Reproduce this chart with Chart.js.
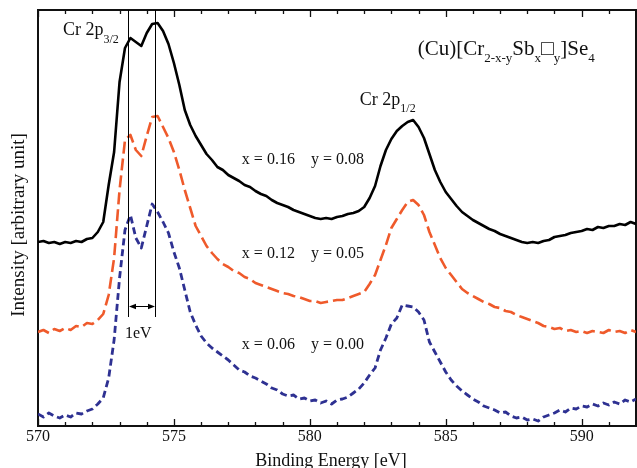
<!DOCTYPE html>
<html>
<head>
<meta charset="utf-8">
<script src="https://cdn.jsdelivr.net/npm/chart.js@4.4.1/dist/chart.umd.min.js"></script>
<style>
  html, body { margin: 0; padding: 0; background: #fff; }
  canvas { display: block; }
</style>
</head>
<body>
<canvas id="xps" width="637" height="468"></canvas>
<script>
// binding energy grid, 570-592 eV in 0.2 eV steps
const energy = [];
for (let i = 0; i <= 110; i++) energy.push(+(570 + i * 0.2).toFixed(1));

// x = 0.16, y = 0.08
const intensityX016 = [
  184, 185, 183, 184, 182, 184, 183, 185, 184, 187,
  188, 194, 204, 241, 274, 344, 378, 388, 384, 380,
  393, 402, 403, 395, 382, 363, 341, 316, 301, 290,
  281, 272, 266, 259, 256, 251, 248, 245, 241, 239,
  235, 232, 230, 226, 223, 221, 219, 216, 214, 212,
  210, 208, 207, 208, 207, 209, 210, 212, 213, 215,
  219, 228, 240, 260, 276, 287, 295, 300, 304, 306,
  299, 288, 272, 256, 244, 234, 227, 220, 214, 210,
  206, 203, 200, 197, 195, 192, 190, 188, 186, 184,
  183, 184, 183, 185, 186, 189, 190, 191, 193, 194,
  195, 197, 196, 199, 198, 200, 200, 202, 201, 204,
  202
];

// x = 0.12, y = 0.05
const intensityX012 = [
  94, 96, 93, 97, 95, 98, 96, 100, 99, 103,
  102, 106, 112, 131, 168, 236, 286, 291, 276, 270,
  290, 309, 310, 299, 288, 274, 256, 236, 218, 200,
  190, 180, 173, 167, 162, 159, 155, 153, 149, 147,
  143, 141, 139, 137, 135, 133, 132, 130, 129, 127,
  125, 125, 123, 124, 125, 126, 126, 128, 130, 132,
  134, 142, 151, 166, 181, 198, 207, 216, 224, 226,
  221, 211, 194, 181, 168, 158, 151, 144, 137, 133,
  130, 127, 124, 122, 119, 118, 115, 114, 111, 109,
  107, 105, 103, 100, 99, 97, 98, 95, 96, 94,
  95, 93, 95, 94, 93, 96, 94, 95, 93, 96,
  94
];

// x = 0.06, y = 0.00
const intensityX006 = [
  12, 9, 13, 10, 8, 11, 9, 13, 12, 15,
  17, 22, 28, 48, 86, 148, 196, 211, 188, 178,
  200, 222, 214, 204, 193, 174, 158, 136, 114, 101,
  90, 83, 78, 74, 70, 66, 61, 56, 54, 50,
  48, 45, 42, 38, 36, 32, 30, 31, 27, 28,
  25, 26, 23, 25, 22, 26, 27, 29, 33, 37,
  43, 51, 58, 76, 88, 102, 108, 121, 120, 119,
  114, 106, 84, 74, 64, 54, 46, 40, 35, 31,
  27, 24, 20, 18, 16, 13, 14, 10, 8, 9,
  6, 7, 5, 9, 11, 13, 16, 14, 18, 17,
  20, 19, 22, 20, 23, 21, 24, 22, 26, 24,
  27
];

const majorTicks = [570, 575, 580, 585, 590];
const peakLines = [573.32, 574.32];   // the two Cr 2p3/2 components
const lineFoot = 109;
const arrowLevel = 120;

// rich text labels: [energy, intensity, size, subSize, subDrop, parts]
const labels = [
  [570.92, 391, 18, 12, 8, [['Cr 2p', 0], ['3/2', 1]]],
  [581.84, 321, 18, 12, 7, [['Cr 2p', 0], ['1/2', 1]]],
  [583.97, 371, 21, 13, 7, [['(Cu)[Cr', 0], ['2-x-y', 1], ['Sb', 0], ['x', 1], ['\u25A1', 0], ['y', 1], [']Se', 0], ['4', 1]]],
  [577.5, 262, 16, 0, 0, [['x = 0.16', 0]]],
  [580.04, 262, 16, 0, 0, [['y = 0.08', 0]]],
  [577.5, 168, 16, 0, 0, [['x = 0.12', 0]]],
  [580.04, 168, 16, 0, 0, [['y = 0.05', 0]]],
  [577.5, 77, 16, 0, 0, [['x = 0.06', 0]]],
  [580.04, 77, 16, 0, 0, [['y = 0.00', 0]]],
  [573.2, 88, 16, 0, 0, [['1eV', 0]]]
];

const SERIF = '"Liberation Serif", "Times New Roman", serif';
const INK = '#111';

function pts(values) {
  return values.map((v, i) => ({ x: energy[i], y: v }));
}

function drawRich(ctx, x, y, size, subSize, subDrop, parts) {
  let cx = x;
  for (const [text, sub] of parts) {
    ctx.font = (sub ? subSize : size) + 'px ' + SERIF;
    ctx.fillText(text, cx, sub ? y + subDrop : y);
    cx += ctx.measureText(text).width;
  }
}

function arrowHead(ctx, x, y, dir) {
  ctx.beginPath();
  ctx.moveTo(x, y);
  ctx.lineTo(x + dir * 7, y - 2.8);
  ctx.lineTo(x + dir * 7, y + 2.8);
  ctx.closePath();
  ctx.fill();
}

const annotations = {
  id: 'annotations',
  afterDatasetsDraw(chart) {
    const { ctx, chartArea: area, scales: { x, y } } = chart;
    ctx.save();
    ctx.strokeStyle = INK;
    ctx.fillStyle = INK;

    // inward tick marks, top and bottom
    ctx.lineWidth = 1.3;
    for (let e = 570; e <= 592; e++) {
      const X = Math.round(x.getPixelForValue(e)) + 0.5;
      const len = majorTicks.includes(e) ? 7 : 4;
      ctx.beginPath();
      ctx.moveTo(X, area.bottom);
      ctx.lineTo(X, area.bottom - len);
      ctx.moveTo(X, area.top);
      ctx.lineTo(X, area.top + len);
      ctx.stroke();
    }

    // peak position markers and the 1 eV spacing arrow
    ctx.lineWidth = 1;
    ctx.strokeStyle = '#000';
    ctx.fillStyle = '#000';
    const xs = peakLines.map(e => Math.round(x.getPixelForValue(e)) + 0.5);
    const foot = y.getPixelForValue(lineFoot);
    for (const X of xs) {
      ctx.beginPath();
      ctx.moveTo(X, area.top);
      ctx.lineTo(X, foot);
      ctx.stroke();
    }
    const ya = Math.round(y.getPixelForValue(arrowLevel)) + 0.5;
    ctx.beginPath();
    ctx.moveTo(xs[0] + 3, ya);
    ctx.lineTo(xs[1] - 3, ya);
    ctx.stroke();
    arrowHead(ctx, xs[0] + 0.5, ya, 1);
    arrowHead(ctx, xs[1] - 0.5, ya, -1);

    // text labels
    ctx.fillStyle = INK;
    ctx.textBaseline = 'alphabetic';
    ctx.textAlign = 'left';
    for (const [e, v, size, subSize, subDrop, parts] of labels) {
      drawRich(ctx, x.getPixelForValue(e), y.getPixelForValue(v), size, subSize, subDrop, parts);
    }

    // axis titles
    ctx.font = '18px ' + SERIF;
    ctx.textAlign = 'center';
    ctx.fillText('Binding Energy [eV]', (area.left + area.right) / 2 - 6, 466);
    ctx.save();
    ctx.translate(24, (area.top + area.bottom) / 2 + 7);
    ctx.rotate(-Math.PI / 2);
    ctx.font = '19px ' + SERIF;
    ctx.fillText('Intensity [arbitrary unit]', 0, 0);
    ctx.restore();

    ctx.restore();
  }
};

const hidden = { display: false, drawTicks: false };
const frameBorder = { color: INK, width: 2 };

new Chart(document.getElementById('xps'), {
  type: 'line',
  data: {
    datasets: [
      {
        label: 'x = 0.16, y = 0.08',
        data: pts(intensityX016),
        borderColor: '#000',
        borderWidth: 2.6
      },
      {
        label: 'x = 0.12, y = 0.05',
        data: pts(intensityX012),
        borderColor: '#ef5a2b',
        borderWidth: 2.6,
        borderDash: [12, 5]
      },
      {
        label: 'x = 0.06, y = 0.00',
        data: pts(intensityX006),
        borderColor: '#2e3192',
        borderWidth: 2.8,
        borderDash: [7, 4]
      }
    ]
  },
  options: {
    responsive: false,
    animation: false,
    events: [],
    layout: { padding: 0 },
    elements: {
      point: { radius: 0 },
      line: { tension: 0, borderJoinStyle: 'round' }
    },
    plugins: {
      legend: { display: false },
      tooltip: { enabled: false }
    },
    scales: {
      x: {
        type: 'linear',
        position: 'bottom',
        min: 570,
        max: 592,
        grid: hidden,
        border: frameBorder,
        ticks: {
          stepSize: 5,
          includeBounds: false,
          maxRotation: 0,
          padding: 1,
          color: INK,
          font: { family: SERIF, size: 16 }
        },
        afterFit: s => { s.height = 42; }
      },
      xTop: {
        type: 'linear',
        position: 'top',
        min: 570,
        max: 592,
        grid: hidden,
        border: frameBorder,
        ticks: { display: false },
        afterFit: s => { s.height = 10; }
      },
      y: {
        type: 'linear',
        position: 'left',
        min: 0,
        max: 416,
        grid: hidden,
        border: frameBorder,
        ticks: { display: false },
        afterFit: s => { s.width = 38; }
      },
      yRight: {
        type: 'linear',
        position: 'right',
        min: 0,
        max: 416,
        grid: hidden,
        border: frameBorder,
        ticks: { display: false },
        afterFit: s => { s.width = 1; }
      }
    }
  },
  plugins: [annotations]
});
</script>
</body>
</html>
